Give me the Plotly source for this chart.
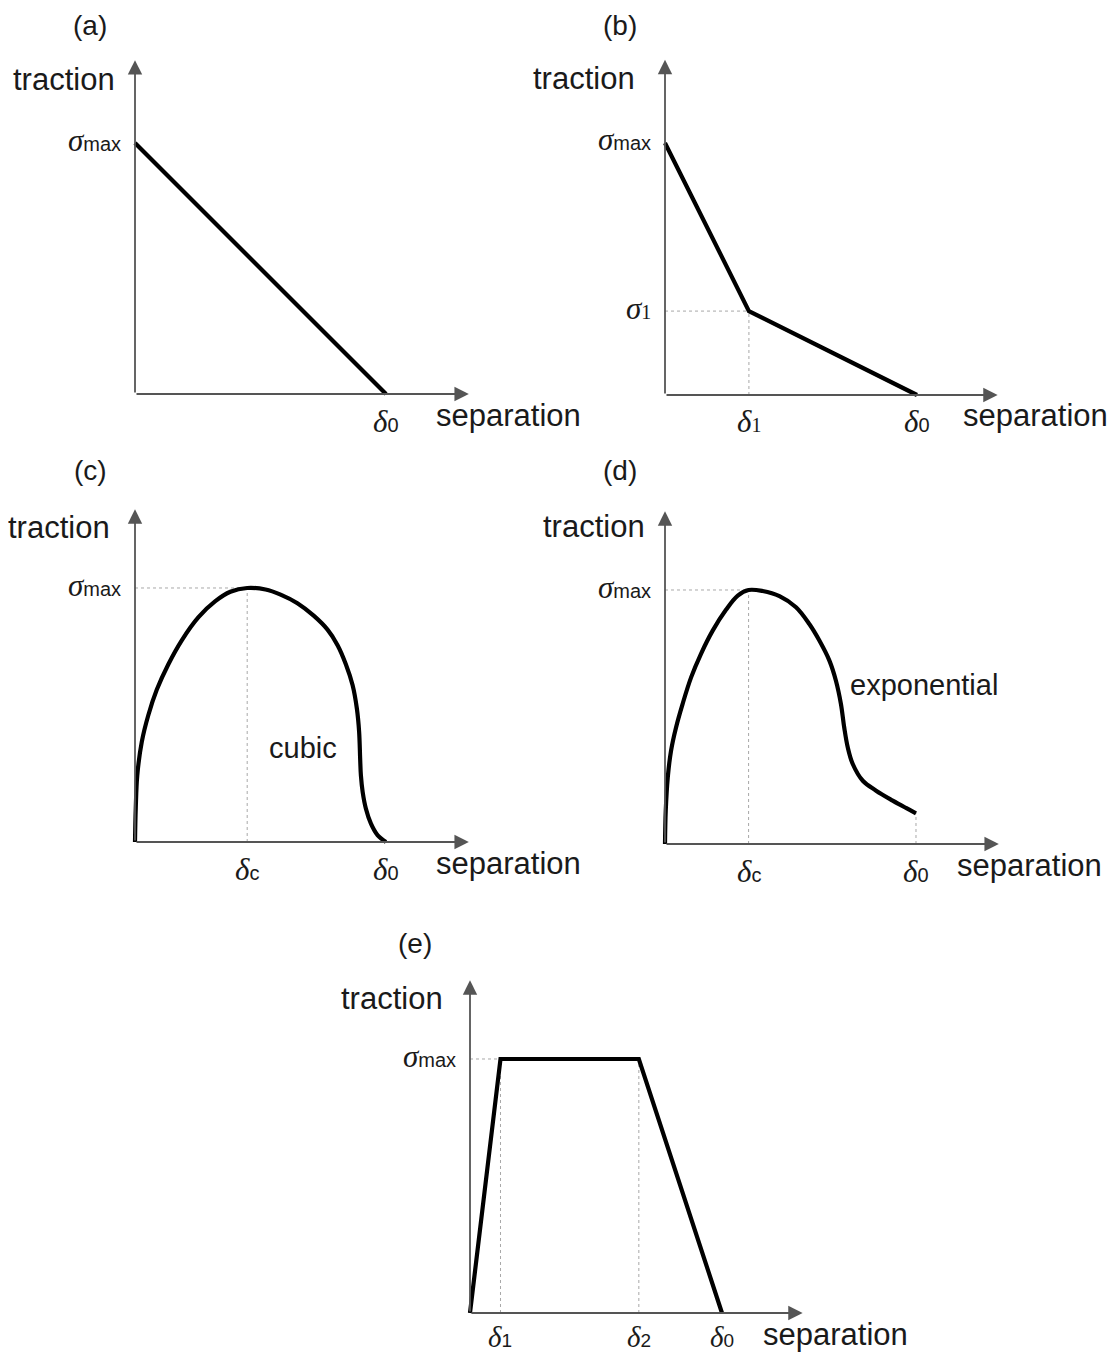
import plotly.graph_objects as go

# the page body has an 8px margin, so the figure is drawn 8px in from the corner
OFF = 8
W, H = 1116 - 2 * OFF, 1364 - 2 * OFF

# ---- data (normalised: delta_0 = 1, sigma_max = 1) ----
a_sep = [0.0, 1.0]
a_trac = [1.0, 0.0]

b_sep = [0.0, 0.333, 1.0]
b_trac = [1.0, 0.333, 0.0]
b_delta1 = 0.333
b_sigma1 = 0.333

c_sep = [0.0, 0.003, 0.009, 0.027, 0.053, 0.087, 0.133, 0.187, 0.253, 0.320,
         0.380, 0.447, 0.520, 0.580, 0.647, 0.713, 0.767, 0.807, 0.840, 0.867,
         0.884, 0.893, 0.897, 0.900, 0.907, 0.920, 0.940, 0.967, 1.0]
c_trac = [0.0, 0.131, 0.262, 0.394, 0.499, 0.600, 0.700, 0.795, 0.885, 0.948,
          0.985, 1.0, 0.994, 0.974, 0.940, 0.890, 0.836, 0.775, 0.700, 0.617,
          0.525, 0.433, 0.328, 0.262, 0.197, 0.131, 0.072, 0.026, 0.0]
c_deltac = 0.447

d_sep = [0.0, 0.003, 0.011, 0.024, 0.044, 0.070, 0.104, 0.143, 0.190, 0.243,
         0.290, 0.333, 0.389, 0.456, 0.522, 0.575, 0.615, 0.655, 0.681, 0.701,
         0.714, 0.728, 0.748, 0.788, 0.841, 0.907, 0.960, 1.0]
d_trac = [0.0, 0.131, 0.262, 0.367, 0.459, 0.551, 0.656, 0.748, 0.840, 0.922,
          0.978, 1.0, 0.996, 0.976, 0.932, 0.866, 0.801, 0.722, 0.643, 0.551,
          0.459, 0.381, 0.315, 0.249, 0.210, 0.171, 0.142, 0.121]
d_deltac = 0.333
d_end = 0.121

e_sep = [0.0, 0.121, 0.670, 1.0]
e_trac = [0.0, 1.0, 1.0, 0.0]
e_delta1 = 0.121
e_delta2 = 0.670

# ---- panel placement in screen pixels: origin, pixels per unit, arrow tips ----
panels = {
    "a": dict(ox=135, oy=394, ux=251, uy=251, xtip=1.33, ytip=1.33),
    "b": dict(ox=665, oy=395, ux=252, uy=252, xtip=1.32, ytip=1.33),
    "c": dict(ox=135, oy=842, ux=251, uy=254, xtip=1.33, ytip=1.31),
    "d": dict(ox=665, oy=844, ux=251, uy=254, xtip=1.33, ytip=1.31),
    "e": dict(ox=470, oy=1313, ux=252, uy=254, xtip=1.32, ytip=1.31),
}

FONT = "Liberation Sans, Arial, sans-serif"
SERIF = "Liberation Serif"
TXT = "#1a1a1a"
AXC = "#555555"


def sym(greek, sub, gsize=31, ssize=20, subfont=FONT):
    return (f"<span style='font-family:{SERIF};font-style:italic;font-size:{gsize}px'>{greek}</span>"
            f"<span style='font-family:{subfont};font-size:{ssize}px'>{sub}</span>")


fig = go.Figure()
annotations = []
layout = {}


def add_panel(idx, key, sep, trac, guides, xticks, yticks, name_gap, sep_x, trac_y,
              smooth, tick_shift=-27):
    p = panels[key]
    xa = "x" if idx == 1 else f"x{idx}"
    ya = "y" if idx == 1 else f"y{idx}"
    xlo, ylo = -0.03, -0.03
    xhi, yhi = p["xtip"] + 0.02, p["ytip"] + 0.02
    ox, oy = p["ox"] - OFF, p["oy"] - OFF
    xdom = [(ox + xlo * p["ux"]) / W, (ox + xhi * p["ux"]) / W]
    ydom = [1 - (oy - ylo * p["uy"]) / H, 1 - (oy - yhi * p["uy"]) / H]
    axname = "xaxis" if idx == 1 else f"xaxis{idx}"
    ayname = "yaxis" if idx == 1 else f"yaxis{idx}"
    layout[axname] = dict(domain=xdom, range=[xlo, xhi], visible=False, anchor=ya)
    layout[ayname] = dict(domain=ydom, range=[ylo, yhi], visible=False, anchor=xa)

    # dotted guide lines
    for gx, gy in guides:
        fig.add_trace(go.Scatter(x=gx, y=gy, mode="lines", xaxis=xa, yaxis=ya,
                                 line=dict(color="#a8a8a8", width=1, dash="dot"),
                                 hoverinfo="skip", showlegend=False))
    # axes with arrows
    for tx, ty in [(p["xtip"], 0), (0, p["ytip"])]:
        annotations.append(dict(x=tx, y=ty, ax=0, ay=0, xref=xa, yref=ya, axref=xa, ayref=ya,
                                text="", showarrow=True, arrowhead=2, arrowsize=1.6,
                                arrowwidth=1.8, arrowcolor=AXC, standoff=0))
    # traction-separation curve
    line = dict(color="black", width=4.2)
    if smooth:
        line.update(shape="spline", smoothing=1.0)
    fig.add_trace(go.Scatter(x=sep, y=trac, mode="lines", xaxis=xa, yaxis=ya, line=line,
                             cliponaxis=False, hoverinfo="skip", showlegend=False))
    # tick-like labels
    for v, lab in xticks:
        annotations.append(dict(x=v, y=0, xref=xa, yref=ya, text=lab, showarrow=False,
                                xanchor="center", yanchor="middle", yshift=tick_shift,
                                font=dict(size=20, family=FONT, color=TXT)))
    for v, lab in yticks:
        annotations.append(dict(x=0, y=v, xref=xa, yref=ya, text=lab, showarrow=False,
                                xanchor="right", yanchor="middle", xshift=-12, yshift=3,
                                font=dict(size=20, family=FONT, color=TXT)))
    annotations.append(dict(x=sep_x, y=0, xref=xa, yref=ya, text="separation", showarrow=False,
                            xanchor="left", yanchor="middle", yshift=-21,
                            font=dict(size=31, family=FONT, color=TXT)))
    annotations.append(dict(x=0, y=trac_y, xref=xa, yref=ya, text="traction", showarrow=False,
                            xanchor="right", yanchor="middle", xshift=-name_gap,
                            font=dict(size=31, family=FONT, color=TXT)))


add_panel(1, "a", a_sep, a_trac, [],
          [(1.0, sym("δ", "0"))], [(1.0, sym("σ", "max"))], 18, 1.19, 1.255, False)
add_panel(2, "b", b_sep, b_trac,
          [([0, b_delta1], [b_sigma1, b_sigma1]), ([b_delta1, b_delta1], [0, b_sigma1])],
          [(b_delta1, sym("δ", "1", subfont=SERIF)), (1.0, sym("δ", "0"))],
          [(1.0, sym("σ", "max")), (b_sigma1, sym("σ", "1", subfont=SERIF))],
          28, 1.175, 1.255, False)
add_panel(3, "c", c_sep, c_trac,
          [([0, c_deltac], [1, 1]), ([c_deltac, c_deltac], [0, 1])],
          [(c_deltac, sym("δ", "c")), (1.0, sym("δ", "0"))],
          [(1.0, sym("σ", "max"))], 23, 1.19, 1.24, True)
add_panel(4, "d", d_sep, d_trac,
          [([0, d_deltac], [1, 1]), ([d_deltac, d_deltac], [0, 1]), ([1, 1], [0, d_end])],
          [(d_deltac, sym("δ", "c")), (1.0, sym("δ", "0"))],
          [(1.0, sym("σ", "max"))], 18, 1.155, 1.25, True)
add_panel(5, "e", e_sep, e_trac,
          [([0, e_delta1], [1, 1]), ([e_delta1, e_delta1], [0, 1]), ([e_delta2, e_delta2], [0, 1])],
          [(e_delta1, sym("δ", "1", gsize=29, ssize=19)), (e_delta2, sym("δ", "2", gsize=29, ssize=19)),
           (1.0, sym("δ", "0", gsize=29, ssize=19))],
          [(1.0, sym("σ", "max"))], 25, 1.155, 1.24, False, tick_shift=-24)

# curve names
annotations.append(dict(x=0.668, y=0.369, xref="x3", yref="y3", text="cubic", showarrow=False,
                        font=dict(size=29, family=FONT, color=TXT)))
annotations.append(dict(x=1.032, y=0.627, xref="x4", yref="y4", text="exponential", showarrow=False,
                        font=dict(size=29, family=FONT, color=TXT)))

# panel letters
for lab, px, py in [("(a)", 90, 26), ("(b)", 620, 26), ("(c)", 90, 470),
                    ("(d)", 620, 470), ("(e)", 415, 943)]:
    annotations.append(dict(x=(px - OFF) / W, y=1 - (py - OFF) / H, xref="paper", yref="paper",
                            text=lab, showarrow=False, xanchor="center", yanchor="middle",
                            font=dict(size=28, family=FONT, color=TXT)))

fig.update_layout(
    width=W, height=H,
    margin=dict(l=0, r=0, t=0, b=0),
    paper_bgcolor="white", plot_bgcolor="white",
    annotations=annotations,
    **layout,
)

fig.write_html("out.html")
